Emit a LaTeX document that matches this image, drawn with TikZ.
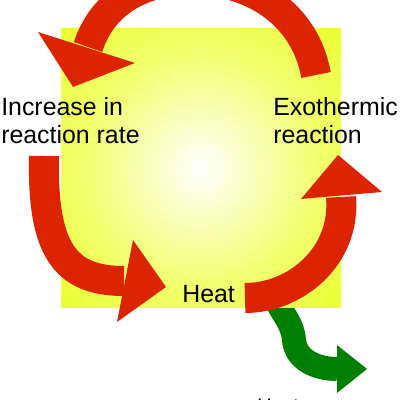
\documentclass[tikz,border=0pt]{standalone}
\usepackage{fontspec}
\setmainfont{Liberation Sans}

\definecolor{cyclered}{RGB}{221,36,0}
\definecolor{lossgreen}{RGB}{0,128,0}
\definecolor{glowyellow}{RGB}{230,255,0}
\colorlet{paleyellow}{glowyellow!55!white}
\pgfdeclareradialshading{glow}{\pgfpoint{0bp}{0bp}}{color(0bp)=(white); color(20bp)=(paleyellow); color(46bp)=(glowyellow); color(50bp)=(glowyellow)}

\tikzset{
    redband/.style={draw=cyclered, line width=0.75cm},
    greenband/.style={draw=lossgreen, line width=0.6cm},
    cyclelabel/.style={font=\fontsize{17.7}{20}\selectfont, align=left, inner sep=0pt, anchor=north west}
}

\begin{document}
\begin{tikzpicture}[x=0.025cm, y=0.025cm]
        \useasboundingbox (0,0) rectangle (400,400);

        % Draw heat loss arrow
        \coordinate (lossstart) at (276,100);
        \coordinate (lossbend) at (294,60);
        \coordinate (lossend) at (337,31);
        \draw[greenband] (lossstart) to[out=-65,in=95] (lossbend) to[out=-85,in=180] (lossend);
        \fill[lossgreen] (337,55) -- (367,31) -- (337,7) -- cycle;

        % Draw glowing square
        \shade[shading=glow] (61,92) rectangle (341,371);

        % Draw top arrow
        \coordinate (topstart) at (316,325);
        \coordinate (toppeak) at (192,420);
        \coordinate (topend) at (88,353);
        \draw[redband] (topstart) to[out=100,in=0] (toppeak) to[out=180,in=72] (topend);
        \fill[cyclered] (38,368) -- (73,313) -- (135,337) -- cycle;

        % Draw left arrow
        \coordinate (leftstart) at (44,244);
        \coordinate (leftend) at (124,119);
        \draw[redband] (leftstart) .. controls (42,150) and (65,119) .. (leftend);
        \fill[cyclered] (133,160) -- (166,113) -- (117,78) -- cycle;

        % Draw right arrow
        \coordinate (rightstart) at (245,102);
        \coordinate (rightend) at (341,203);
        \draw[redband] (rightstart) .. controls (295,102) and (346,143) .. (rightend);
        \fill[cyclered] (301,201) -- (338,245) -- (382,208) -- cycle;

        % Labels
        \node[cyclelabel] (rate) at (1,303) {Increase in\\reaction rate};
        \node[cyclelabel] (exo) at (273,303) {Exothermic\\reaction};
        \node[cyclelabel] (heat) at (182,115) {Heat};
        \node[cyclelabel, font=\fontsize{14}{16}\selectfont] (lost) at (257,1.5) {Heat};
    \end{tikzpicture}
\end{document}
